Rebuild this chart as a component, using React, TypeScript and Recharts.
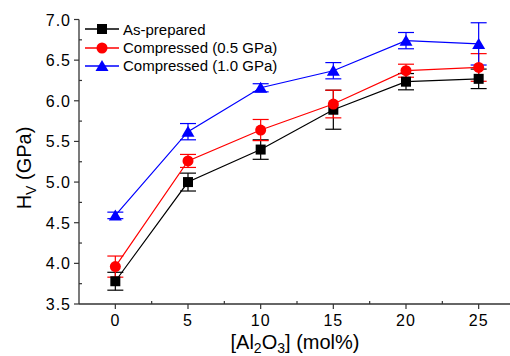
import React from 'react';
import { LineChart, Line, XAxis, YAxis, ErrorBar, Legend, Label } from 'recharts';

const alumina = [0, 5, 10, 15, 20, 25];
const asPrepared = [3.78, 5.0, 5.4, 5.89, 6.235, 6.27];
const asPreparedErr = [0.11, 0.11, 0.12, 0.24, 0.1, 0.12];
const comp05 = [3.96, 5.26, 5.64, 5.96, 6.37, 6.41];
const comp05Err = [0.13, 0.08, 0.13, 0.17, 0.08, 0.17];
const comp10 = [4.59, 5.62, 6.16, 6.37, 6.74, 6.7];
const comp10Err = [0.04, 0.1, 0.05, 0.1, 0.1, 0.26];
const seriesNames = ['As-prepared', 'Compressed (0.5 GPa)', 'Compressed (1.0 GPa)'];
const seriesColors = ['#000000', '#ff0000', '#0000ff'];

const xMajor = [0, 5, 10, 15, 20, 25];
const xMinor = [2.5, 7.5, 12.5, 17.5, 22.5];
const yMajor = [3.5, 4.0, 4.5, 5.0, 5.5, 6.0, 6.5, 7.0];
const yMinor = [3.75, 4.25, 4.75, 5.25, 5.75, 6.25, 6.75];

const data = alumina.map((x, i) => ({
  x,
  a: asPrepared[i],
  aErr: asPreparedErr[i],
  b: comp05[i],
  bErr: comp05Err[i],
  c: comp10[i],
  cErr: comp10Err[i],
}));

const FONT = '"Liberation Sans", Arial, sans-serif';
const AXIS = '#333333';
const allX = [...xMajor, ...xMinor].sort((p, q) => p - q);
const allY = [...yMajor, ...yMinor].sort((p, q) => p - q);

const XTick = (props: any) => {
  const { x, y, payload } = props;
  const major = xMajor.includes(payload.value);
  return (
    <g>
      {major ? (
        <line x1={x} x2={x} y1={y} y2={y + 5} stroke={AXIS} strokeWidth={1.2} />
      ) : (
        <line x1={x} x2={x} y1={y} y2={y - 3} stroke={AXIS} strokeWidth={1.2} />
      )}
      {major && (
        <text x={x} y={y + 22} textAnchor="middle" fontFamily={FONT} fontSize={16} letterSpacing={1} fill="#000">
          {payload.value}
        </text>
      )}
    </g>
  );
};

const TopTick = (props: any) => {
  const { x, y, payload } = props;
  const major = xMajor.includes(payload.value);
  return <line x1={x} x2={x} y1={y} y2={y + (major ? 5 : 3)} stroke={AXIS} strokeWidth={1.2} />;
};

const YTick = (props: any) => {
  const { x, y, payload } = props;
  const major = yMajor.some((v) => Math.abs(v - payload.value) < 1e-6);
  return (
    <g>
      {major ? (
        <line x1={x - 5} x2={x} y1={y} y2={y} stroke={AXIS} strokeWidth={1.2} />
      ) : (
        <line x1={x} x2={x + 3} y1={y} y2={y} stroke={AXIS} strokeWidth={1.2} />
      )}
      {major && (
        <text x={x - 8} y={y + 6} textAnchor="end" fontFamily={FONT} fontSize={16} letterSpacing={1} fill="#000">
          {payload.value.toFixed(1)}
        </text>
      )}
    </g>
  );
};

const squareDot = (p: any) => (
  <rect key={`s${p.index}`} x={p.cx - 5} y={p.cy - 5} width={10} height={10} fill={seriesColors[0]} />
);
const circleDot = (p: any) => <circle key={`c${p.index}`} cx={p.cx} cy={p.cy} r={5.5} fill={seriesColors[1]} />;
const triDot = (p: any) => (
  <polygon
    key={`t${p.index}`}
    points={`${p.cx},${p.cy - 6} ${p.cx - 6.5},${p.cy + 5} ${p.cx + 6.5},${p.cy + 5}`}
    fill={seriesColors[2]}
  />
);

const LegendMarker = ({ i }: { i: number }) => {
  const c = seriesColors[i];
  return (
    <svg width={36} height={16} style={{ display: 'block' }}>
      <line x1={1} x2={35} y1={8} y2={8} stroke={c} strokeWidth={1.3} />
      {i === 0 && <rect x={13} y={3} width={10} height={10} fill={c} />}
      {i === 1 && <circle cx={18} cy={8} r={5.5} fill={c} />}
      {i === 2 && <polygon points="18,2 11.5,13 24.5,13" fill={c} />}
    </svg>
  );
};

const renderLegend = () => (
  <div style={{ fontFamily: FONT, fontSize: 15, color: '#000' }}>
    {seriesNames.map((n, i) => (
      <div key={n} style={{ display: 'flex', alignItems: 'center', height: 18.4 }}>
        <LegendMarker i={i} />
        <span style={{ marginLeft: 3, whiteSpace: 'nowrap' }}>{n}</span>
      </div>
    ))}
  </div>
);

const XTitle = (props: any) => {
  const vb = props.viewBox || { x: 79, y: 304 };
  const cx = 295;
  const y = vb.y + 45;
  return (
    <text x={cx} y={y} textAnchor="middle" fontFamily={FONT} fontSize={20} fill="#000">
      <tspan>[Al</tspan>
      <tspan dy={4} fontSize={14}>2</tspan>
      <tspan dy={-4}>O</tspan>
      <tspan dy={4} fontSize={14}>3</tspan>
      <tspan dy={-4}>] (mol%)</tspan>
    </text>
  );
};

const YTitle = () => {
  const cx = 31;
  const cy = 168;
  return (
    <text
      x={cx}
      y={cy}
      textAnchor="middle"
      transform={`rotate(-90 ${cx} ${cy})`}
      fontFamily={FONT}
      fontSize={20}
      fill="#000"
    >
      <tspan>H</tspan>
      <tspan dy={5} fontSize={14}>V</tspan>
      <tspan dy={-5}> (GPa)</tspan>
    </text>
  );
};

export default function App() {
  return (
    <div style={{ position: 'absolute', left: 0, top: 0, width: 510, height: 356, overflow: 'hidden', background: '#fff' }}>
      <LineChart width={520} height={356} data={data} margin={{ top: 19.5, right: 5, bottom: 0, left: 0 }}>
        <XAxis
          dataKey="x"
          type="number"
          domain={[-2.5, 27.5]}
          ticks={allX}
          interval={0}
          height={52}
          tickSize={0}
          tickMargin={0}
          tickLine={false}
          tick={<XTick />}
          axisLine={{ stroke: AXIS, strokeWidth: 1.3 }}
          allowDataOverflow
        >
          <Label content={<XTitle />} />
        </XAxis>
        <XAxis
          xAxisId="top"
          orientation="top"
          type="number"
          dataKey="x"
          domain={[-2.5, 27.5]}
          ticks={allX}
          interval={0}
          height={0}
          tickSize={0}
          tickMargin={0}
          tickLine={false}
          tick={<TopTick />}
          axisLine={{ stroke: AXIS, strokeWidth: 1.3 }}
          allowDataOverflow
        />
        <YAxis
          type="number"
          domain={[3.5, 7.0]}
          ticks={allY}
          interval={0}
          width={79}
          tickSize={0}
          tickMargin={0}
          tickLine={false}
          tick={<YTick />}
          axisLine={{ stroke: AXIS, strokeWidth: 1.3 }}
          allowDataOverflow
        >
          <Label content={<YTitle />} />
        </YAxis>
        <Legend
          content={renderLegend}
          layout="vertical"
          align="center"
          verticalAlign="middle"
          wrapperStyle={{ position: 'absolute', left: 84, top: 20, width: 'auto' }}
        />
        <Line
          dataKey="a"
          name={seriesNames[0]}
          stroke={seriesColors[0]}
          strokeWidth={1.2}
          dot={squareDot}
          activeDot={false}
          isAnimationActive={false}
        >
          <ErrorBar dataKey="aErr" direction="y" width={8} stroke={seriesColors[0]} strokeWidth={1.2} />
        </Line>
        <Line
          dataKey="b"
          name={seriesNames[1]}
          stroke={seriesColors[1]}
          strokeWidth={1.2}
          dot={circleDot}
          activeDot={false}
          isAnimationActive={false}
        >
          <ErrorBar dataKey="bErr" direction="y" width={8} stroke={seriesColors[1]} strokeWidth={1.2} />
        </Line>
        <Line
          dataKey="c"
          name={seriesNames[2]}
          stroke={seriesColors[2]}
          strokeWidth={1.2}
          dot={triDot}
          activeDot={false}
          isAnimationActive={false}
        >
          <ErrorBar dataKey="cErr" direction="y" width={8} stroke={seriesColors[2]} strokeWidth={1.2} />
        </Line>
      </LineChart>
    </div>
  );
}
